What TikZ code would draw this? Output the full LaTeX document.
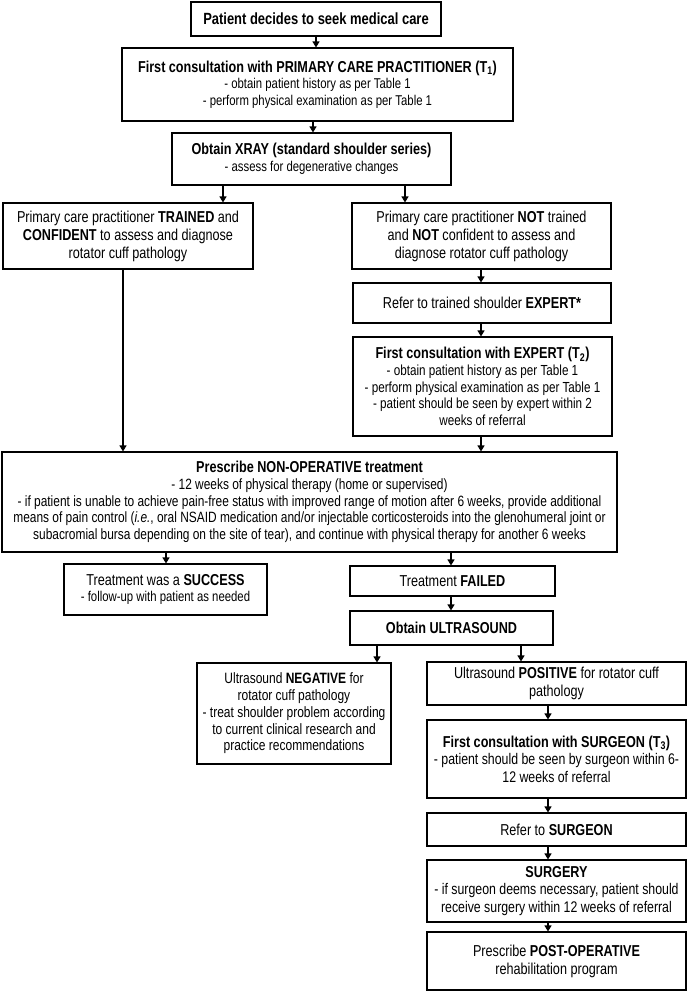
\documentclass[tikz,border=0pt]{standalone}
\usepackage{fontspec}
\setmainfont{Liberation Sans}[FakeStretch=0.8]
\usetikzlibrary{arrows.meta}
\newcommand\fz[2]{\fontsize{#1}{#2}\selectfont}
\begin{document}
\begin{tikzpicture}[x=1pt,y=-1pt,
  box/.style={draw=black, line width=1.1pt, inner xsep=0pt, inner ysep=0pt, align=center, anchor=center},
  arr/.style={draw=black, line width=1.1pt, -{Triangle[length=6pt,width=7pt]}},
  big/.style={font=\fz{15.8}{18}},
  small/.style={font=\fz{14.2}{16.7}},
]
\fill[white] (0,0) rectangle (689,993);
\useasboundingbox (0,0) rectangle (689,993);

\node[box, font=\fz{16.2}{20}\bfseries, minimum width=250pt, minimum height=34pt] (b1) at (316,19) {Patient decides to seek medical care};

\node[box, small, minimum width=391pt, minimum height=73pt] (b2) at (317.5,84.5)
 {{\fz{15.8}{16.7}\bfseries First consultation with PRIMARY CARE PRACTITIONER (T\textsubscript{1})}\\
  - obtain patient history as per Table 1\\
  - perform physical examination as per Table 1};

\node[box, small, minimum width=279pt, minimum height=52pt] (xray) at (311.5,159)
 {{\fz{15.8}{16.7}\bfseries Obtain XRAY (standard shoulder series)}\\
  - assess for degenerative changes};

\node[box, big, minimum width=250pt, minimum height=66pt] (trained) at (128,236)
 {Primary care practitioner \textbf{TRAINED} and\\
  \textbf{CONFIDENT} to assess and diagnose\\
  rotator cuff pathology};

\node[box, big, minimum width=259pt, minimum height=66pt] (nottr) at (481.5,236)
 {Primary care practitioner \textbf{NOT} trained\\
  and \textbf{NOT} confident to assess and\\
  diagnose rotator cuff pathology};

\node[box, big, minimum width=258pt, minimum height=40pt] (referexp) at (482,303)
 {Refer to trained shoulder \textbf{EXPERT*}};

\node[box, font=\fz{14.6}{16.7}, minimum width=259pt, minimum height=99pt] (expert) at (482.5,386.5)
 {{\fz{15.8}{16.7}\bfseries First consultation with EXPERT (T\textsubscript{2})}\\
  - obtain patient history as per Table 1\\
  - perform physical examination as per Table 1\\
  - patient should be seen by expert within 2\\
  weeks of referral};

\node[box, font=\fz{14.9}{16.7}, minimum width=615pt, minimum height=100pt] (prescribe) at (309.5,502)
 {{\fz{15.8}{16.7}\bfseries Prescribe NON-OPERATIVE treatment}\\
  - 12 weeks of physical therapy (home or supervised)\\
  - if patient is unable to achieve pain-free status with improved range of motion after 6 weeks, provide additional\\
  means of pain control (\textit{i.e.}, oral NSAID medication and/or injectable corticosteroids into the glenohumeral joint or\\
  subacromial bursa depending on the site of tear), and continue with physical therapy for another 6 weeks};

\node[box, small, minimum width=203pt, minimum height=51pt] (success) at (165.5,589.5)
 {{\fz{15.8}{16.7}Treatment was a \textbf{SUCCESS}}\\
  - follow-up with patient as needed};

\node[box, big, minimum width=205pt, minimum height=30pt] (failed) at (452.5,581)
 {Treatment \textbf{FAILED}};

\node[box, big, minimum width=203pt, minimum height=34pt] (ultra) at (451.5,628)
 {\textbf{Obtain ULTRASOUND}};

\node[box, font=\fz{15}{16.7}, minimum width=194pt, minimum height=101pt] (neg) at (294,713.5)
 {Ultrasound \textbf{NEGATIVE} for\\
  rotator cuff pathology\\
  - treat shoulder problem according\\
  to current clinical research and\\
  practice recommendations};

\node[box, big, minimum width=259pt, minimum height=43pt] (pos) at (556.5,683.5)
 {Ultrasound \textbf{POSITIVE} for rotator cuff\\ pathology};

\node[box, font=\fz{15.4}{17.5}, minimum width=259pt, minimum height=78pt] (surg1) at (556.5,759)
 {{\fz{15.8}{17.5}\bfseries First consultation with SURGEON (T\textsubscript{3})}\\
  - patient should be seen by surgeon within 6-\\
  12 weeks of referral};

\node[box, big, minimum width=259pt, minimum height=33pt] (refsurg) at (556.5,829.5)
 {Refer to \textbf{SURGEON}};

\node[box, font=\fz{15.4}{17.5}, minimum width=259pt, minimum height=62pt] (surgery) at (556.5,891)
 {{\fz{15.8}{17.5}\bfseries SURGERY}\\
  - if surgeon deems necessary, patient should\\
  receive surgery within 12 weeks of referral};

\node[box, big, minimum width=259pt, minimum height=58pt] (postop) at (556.5,961)
 {Prescribe \textbf{POST-OPERATIVE}\\ rehabilitation program};

\draw[arr] (b1.south) -- (b1.south |- b2.north);
\draw[arr] (b2.south -| 313,0) -- (xray.north -| 313,0);
\draw[arr] (xray.south -| 223,0) -- (trained.north -| 223,0);
\draw[arr] (xray.south -| 405,0) -- (nottr.north -| 405,0);
\draw[arr] (nottr.south -| 481,0) -- (referexp.north -| 481,0);
\draw[arr] (referexp.south -| 481,0) -- (expert.north -| 481,0);
\draw[arr] (expert.south -| 481,0) -- (prescribe.north -| 481,0);
\draw[arr] (trained.south -| 123,0) -- (prescribe.north -| 123,0);
\draw[arr] (prescribe.south -| 166,0) -- (success.north -| 166,0);
\draw[arr] (prescribe.south -| 451,0) -- (failed.north -| 451,0);
\draw[arr] (failed.south -| 451,0) -- (ultra.north -| 451,0);
\draw[arr] (ultra.south -| 377,0) -- (neg.north -| 377,0);
\draw[arr] (ultra.south -| 521,0) -- (pos.north -| 521,0);
\draw[arr] (pos.south -| 548,0) -- (surg1.north -| 548,0);
\draw[arr] (surg1.south -| 548,0) -- (refsurg.north -| 548,0);
\draw[arr] (refsurg.south -| 548,0) -- (surgery.north -| 548,0);
\draw[arr] (surgery.south -| 548,0) -- (postop.north -| 548,0);
\end{tikzpicture}
\end{document}
